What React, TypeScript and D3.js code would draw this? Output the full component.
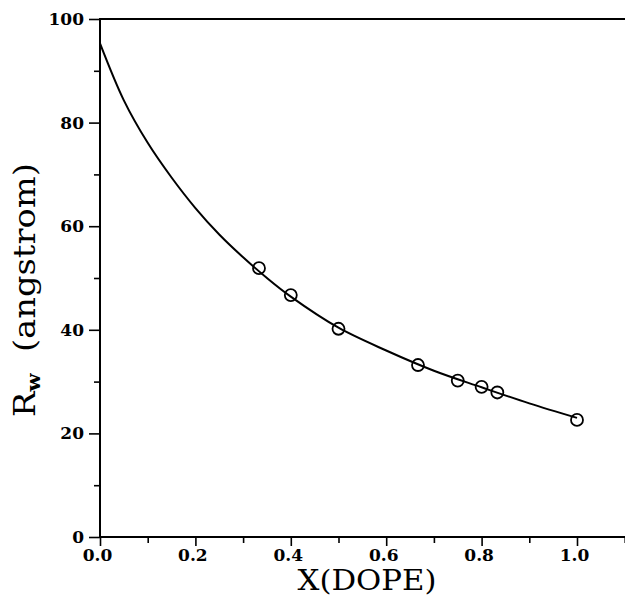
import * as d3 from "d3";
import { useRef, useEffect } from "react";

const width = 625;
const height = 597;
const margin = { top: 19, right: 0, bottom: 60, left: 100 };

// measured points (open circles)
const dopeX = [1 / 3, 0.4, 0.5, 2 / 3, 0.75, 0.8, 0.833, 1.0];
const rwY = [51.9, 46.7, 40.2, 33.2, 30.2, 29.0, 27.9, 22.6];

// fitted curve
const curveX = [0, 0.05, 0.1, 0.15, 0.2, 0.25, 0.3, 0.35, 0.4, 0.5, 0.6, 0.7, 0.8, 0.9, 1.0];
const curveY = [95.3, 84.3, 76.1, 69.4, 63.5, 58.4, 54.0, 50.0, 46.4, 40.4, 36.0, 32.1, 28.9, 25.8, 23.0];

const xMajor = [0, 0.2, 0.4, 0.6, 0.8, 1.0];
const xMinor = [0.1, 0.3, 0.5, 0.7, 0.9, 1.1];
const yMajor = [0, 20, 40, 60, 80, 100];
const yMinor = [10, 30, 50, 70, 90];

const serif = "'DejaVu Serif', serif";

const App = () => {
  const xAxisRef = useRef(null);
  const xMinorRef = useRef(null);
  const yAxisRef = useRef(null);
  const yMinorRef = useRef(null);

  const xScale = d3
    .scaleLinear()
    .domain([0, 1.1])
    .range([margin.left, margin.left + 477 * 1.1]);
  const yScale = d3
    .scaleLinear()
    .domain([0, 100])
    .range([height - margin.bottom, margin.top]);

  const line = d3
    .line()
    .x((i) => xScale(curveX[i]))
    .y((i) => yScale(curveY[i]))
    .curve(d3.curveCatmullRom.alpha(0.5));

  useEffect(() => {
    const style = (g) => {
      g.select(".domain").remove();
      g.selectAll("line").attr("stroke", "#000").attr("stroke-width", 1.6);
      g.selectAll("text")
        .attr("fill", "#000")
        .style("font-family", serif)
        .style("font-weight", "bold")
        .style("font-size", "17px");
    };
    d3.select(xAxisRef.current)
      .call(
        d3.axisBottom(xScale).tickValues(xMajor).tickSize(9).tickPadding(3).tickFormat(d3.format(".1f"))
      )
      .call(style)
      .selectAll("text")
      .attr("dx", -3);
    d3.select(xMinorRef.current)
      .call(d3.axisBottom(xScale).tickValues(xMinor).tickSize(6).tickFormat(() => ""))
      .call(style);
    d3.select(yAxisRef.current)
      .call(d3.axisLeft(yScale).tickValues(yMajor).tickSize(11).tickPadding(5))
      .call(style);
    d3.select(yMinorRef.current)
      .call(d3.axisLeft(yScale).tickValues(yMinor).tickSize(6).tickFormat(() => ""))
      .call(style);
  }, []);

  const y0 = yScale(0);

  return (
    <svg
      width={width}
      height={height}
      style={{ position: "absolute", left: 0, top: 0, background: "#fff" }}
    >
      <g ref={xAxisRef} transform={`translate(0,${y0})`} />
      <g ref={xMinorRef} transform={`translate(0,${y0})`} />
      <g ref={yAxisRef} transform={`translate(${margin.left},0)`} />
      <g ref={yMinorRef} transform={`translate(${margin.left},0)`} />

      {/* frame: left axis, bottom axis, top line */}
      <line x1={margin.left} x2={margin.left} y1={margin.top} y2={y0} stroke="#000" strokeWidth={2} />
      <line x1={margin.left - 1} x2={width} y1={y0} y2={y0} stroke="#000" strokeWidth={2} />
      <line x1={margin.left - 1} x2={width} y1={margin.top} y2={margin.top} stroke="#000" strokeWidth={2} />

      <path d={line(d3.range(curveX.length))} fill="none" stroke="#000" strokeWidth={2} />

      {dopeX.map((x, i) => (
        <circle
          key={i}
          cx={xScale(x)}
          cy={yScale(rwY[i])}
          r={6}
          fill="none"
          stroke="#000"
          strokeWidth={1.8}
        />
      ))}

      <text
        x={367}
        y={590}
        textAnchor="middle"
        fontFamily={serif}
        fontSize={27}
        textLength={139}
        lengthAdjust="spacingAndGlyphs"
      >
        X(DOPE)
      </text>

      <text
        transform="translate(35,417) rotate(-90)"
        fontFamily={serif}
        fontSize={29}
        textLength={254}
        lengthAdjust="spacingAndGlyphs"
      >
        R
        <tspan fontSize={18} fontWeight="bold" dy={5}>
          w
        </tspan>
        <tspan dy={-5}>{"\u00a0\u00a0(angstrom)"}</tspan>
      </text>
    </svg>
  );
};

export default App;
